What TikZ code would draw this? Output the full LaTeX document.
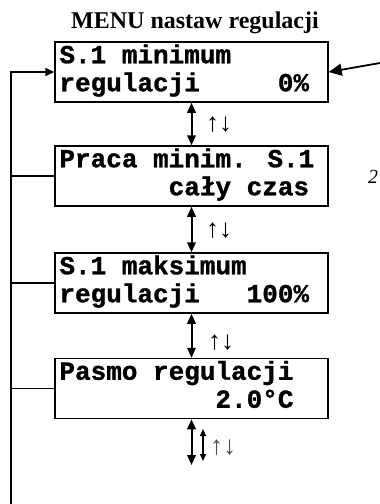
\documentclass[tikz,border=0pt]{standalone}
\usepackage{fontspec}
\setmainfont{Liberation Serif}
\newfontfamily\lcdfont{Liberation Mono}[BoldFeatures={FakeBold=1.2}]
\usetikzlibrary{arrows.meta,calc}
\newlength\cw \setlength\cw{15.6pt}
\newcommand\blk[1]{\hspace*{#1\cw}}
\begin{document}
\begin{tikzpicture}[x=1pt,y=-1pt,
  lcd/.style={draw,line width=1.5pt,minimum width=273pt,minimum height=60pt,inner sep=0pt},
  lcdtxt/.style={anchor=base west,inner sep=0pt,font=\fontsize{26}{28}\selectfont\lcdfont\bfseries},
  conn/.style={line width=1.8pt},
  dbl/.style={line width=2pt,{Triangle[length=10pt,width=8.5pt]}-{Triangle[length=10pt,width=8.5pt]}},
  sdbl/.style={line width=1.4pt,{Triangle[length=7pt,width=6pt]}-{Triangle[length=7pt,width=6pt]}},
  updn/.style={inner sep=0pt,font=\fontsize{26}{28}\selectfont}]
\useasboundingbox (0,0) rectangle (380,504);
% title
\node[anchor=base,inner sep=0pt,font=\fontsize{24}{26}\selectfont\bfseries] (title) at (195,28) {MENU nastaw regulacji};
% boxes
\node[lcd] (b1) at (191.5,72) {};
\node[lcd] (b2) at (191.5,176) {};
\node[lcd] (b3) at (191.5,283) {};
\node[lcd] (b4) at (191.5,388.5) {};
% texts
\node[lcdtxt] (t1a) at ($(b1.north west)+(5,22)$) {S.1 minimum};
\node[lcdtxt] (t1b) at ($(b1.north west)+(5,50)$) {regulacji\blk4 0\%};
\node[lcdtxt] (t2a) at ($(b2.north west)+(5,22)$) {Praca minim. S.1};
\node[lcdtxt] (t2b) at ($(b2.north west)+(5,50)$) {\blk6 cały czas};
\node[lcdtxt] (t3a) at ($(b3.north west)+(5,22)$) {S.1 maksimum};
\node[lcdtxt] (t3b) at ($(b3.north west)+(5,50)$) {regulacji\blk2 100\%};
\node[lcdtxt] (t4a) at ($(b4.north west)+(5,22)$) {Pasmo regulacji};
\node[lcdtxt] (t4b) at ($(b4.north west)+(5,50)$) {\blk{10}2.0°C};
% left return line
\coordinate (lbot) at (11,504);
\draw[conn,-{Triangle[length=9pt,width=8pt]}] (lbot) |- (b1.west);
\draw[conn] (b2.west) -- (b2.west -| lbot);
\draw[conn] (b3.west) -- (b3.west -| lbot);
\draw[conn] (b4.west) -- (b4.west -| lbot);
% incoming arrow
\coordinate (inc) at (380,63);
\draw[line width=1.8pt,-{Triangle[length=13pt,width=12pt]}] (inc) -- (b1.east);
% vertical double arrows
\draw[dbl] (b1.south) -- (b2.north);
\draw[dbl] (b2.south) -- (b3.north);
\draw[dbl] (b3.south) -- (b4.north);
\coordinate (e4) at (191.5,465);
\draw[dbl] (b4.south) -- (e4);
\coordinate (s4a) at (203,429);
\coordinate (s4b) at (203,461);
\draw[sdbl] (s4a) -- (s4b);
% up/down symbols
\node[updn] (u1) at (219,125) {↑↓};
\node[updn] (u2) at (219,231) {↑↓};
\node[updn] (u3) at (221,343) {↑↓};
\node[updn,text=black!70] (u4) at (223,448) {↑↓};
% page fragment
\node[anchor=base,inner sep=0pt,font=\fontsize{20}{24}\selectfont\itshape] (pg) at (373,183) {2};
\end{tikzpicture}
\end{document}
